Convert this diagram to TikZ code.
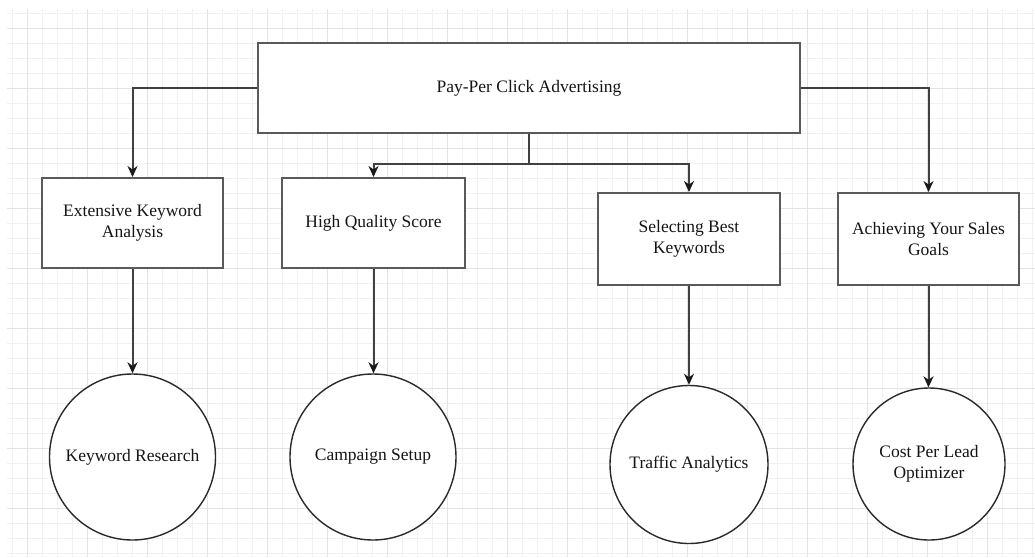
\documentclass[tikz,border=0pt]{standalone}
\usepackage{fontspec}
\setmainfont{Liberation Serif}
\usetikzlibrary{arrows.meta}
\definecolor{boxgray}{HTML}{5A5A5A}
\definecolor{circgray}{HTML}{2A2A2A}
\definecolor{edgegray}{HTML}{404040}
\definecolor{gridminor}{HTML}{F1F1F1}
\definecolor{gridmajor}{HTML}{E3E3E3}
\definecolor{txt}{HTML}{151515}
\definecolor{tipcol}{HTML}{1A1A1A}
\begin{document}
\begin{tikzpicture}[x=1pt,y=-1pt,
  box/.style={draw=boxgray,line width=2pt,fill=white,rectangle,inner sep=0pt,align=center,text=txt,font=\fontsize{17.5}{21}\selectfont},
  circ/.style={draw=circgray,line width=1.4pt,fill=white,circle,inner sep=0pt,align=center,text=txt,font=\fontsize{17.5}{21}\selectfont},
  conn/.style={draw=edgegray,line width=2pt,-{Stealth[length=11pt,width=10pt,inset=3.5pt,color=tipcol]}},
  minorline/.style={draw=gridminor,line width=0.8pt},
  majorline/.style={draw=gridmajor,line width=1pt}
]
\useasboundingbox[fill=white] (0,0) rectangle (1035,557);
\begin{scope}
  \clip (7,9) rectangle (1035,557);
  \foreach \i in {0,...,68} \draw[minorline] ({12+15*\i},9) -- ({12+15*\i},557);
  \foreach \i in {0,...,36} \draw[minorline] (7,{13+15*\i}) -- (1035,{13+15*\i});
  \foreach \i in {0,...,16} \draw[majorline] ({27+60*\i},9) -- ({27+60*\i},557);
  \foreach \i in {0,...,8} \draw[majorline] (7,{28+60*\i}) -- (1035,{28+60*\i});
\end{scope}

\node[box,minimum width=542pt,minimum height=90pt] (main) at (529,88) {Pay-Per Click Advertising};
\node[box,minimum width=181pt,minimum height=90pt] (b1) at (132.5,223) {Extensive Keyword\\Analysis};
\node[box,minimum width=183pt,minimum height=90pt] (b2) at (373.5,223) {High Quality Score};
\node[box,minimum width=182pt,minimum height=92pt] (b3) at (689,239) {Selecting Best\\Keywords};
\node[box,minimum width=181pt,minimum height=92pt] (b4) at (928.5,239) {Achieving Your Sales\\Goals};

\node[circ,minimum size=166pt] (c1) at (132.5,457) {Keyword Research};
\node[circ,minimum size=166pt] (c2) at (373,457) {Campaign Setup};
\node[circ,minimum size=158pt] (c3) at (689,464.5) {Traffic Analytics};
\node[circ,minimum size=152pt] (c4) at (929,464) {Cost Per Lead\\Optimizer};

\draw[conn] (main.west) -| (b1.north);
\draw[conn] (main.east) -| (b4.north);
\draw[conn] (main.south) -- ++(0,30) -| (b2.north);
\draw[conn] (main.south) -- ++(0,30) -| (b3.north);

\draw[conn] (b1.south) -- (c1.north);
\draw[conn] (b2.south) -- (b2.south |- c2.north);
\draw[conn] (b3.south) -- (c3.north);
\draw[conn] (b4.south) -- (b4.south |- c4.north);
\end{tikzpicture}
\end{document}
